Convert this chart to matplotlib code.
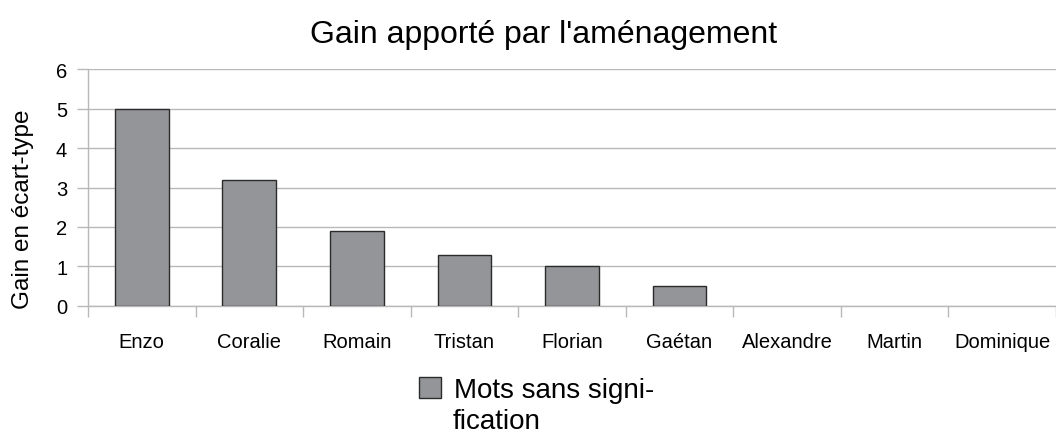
import matplotlib
matplotlib.use("Agg")
from matplotlib import pyplot as plt

plt.rcParams["font.family"] = ["Liberation Sans", "DejaVu Sans"]

names = ["Enzo", "Coralie", "Romain", "Tristan", "Florian", "Gaétan",
         "Alexandre", "Martin", "Dominique"]
gain = [5.0, 3.2, 1.9, 1.3, 1.0, 0.5, 0, 0, 0]
series_label = "Mots sans signi-"
series_label_rest = "fication"

fig = plt.figure(figsize=(10.56, 4.35), dpi=100)
ax = fig.add_axes([0.0833, 0.2943, 0.9167, 0.5447])

x = range(len(names))
edges = ["#2b2b2b" if v > 0 else "none" for v in gain]
ax.bar(x, gain, width=0.5, color="#939598", edgecolor=edges,
       linewidth=1.0, label=series_label, zorder=3)

ax.set_xlim(-0.5, len(names) - 0.5)
ax.set_ylim(0, 6)
ax.set_yticks(range(0, 7))
ax.set_xticks(list(x))
ax.set_xticklabels(names)
ax.set_xticks([i - 0.5 for i in range(len(names) + 1)], minor=True)

ax.grid(axis="y", color="#b8b8b8", linewidth=1.0, zorder=0)
for side in ["top", "right"]:
    ax.spines[side].set_visible(False)
for side in ["left", "bottom"]:
    ax.spines[side].set_color("#b8b8b8")
    ax.spines[side].set_linewidth(1.0)

ax.tick_params(axis="x", which="major", length=0, pad=19, labelsize=14.5)
ax.tick_params(axis="x", which="minor", length=8, color="#b8b8b8", width=1)
ax.tick_params(axis="y", length=8, color="#b8b8b8", width=1, pad=7,
               labelsize=14.5)

fig.text(23 / 1056, 0.518, "Gain en écart-type", rotation=90,
         ha="center", va="center", fontsize=17.5)
fig.text(0.515, 1 - 43 / 435, "Gain apporté par l'aménagement",
         ha="center", va="baseline", fontsize=23)

fig.legend(loc="upper left", bbox_to_anchor=(0.397, 0.131), frameon=False,
           fontsize=20, handlelength=0.8, handleheight=0.8,
           handletextpad=0.45, borderpad=0, borderaxespad=0)
fig.text(453 / 1056, 1 - 429 / 435, series_label_rest, fontsize=20,
         ha="left", va="baseline")

fig.savefig("out.png", dpi=100)
